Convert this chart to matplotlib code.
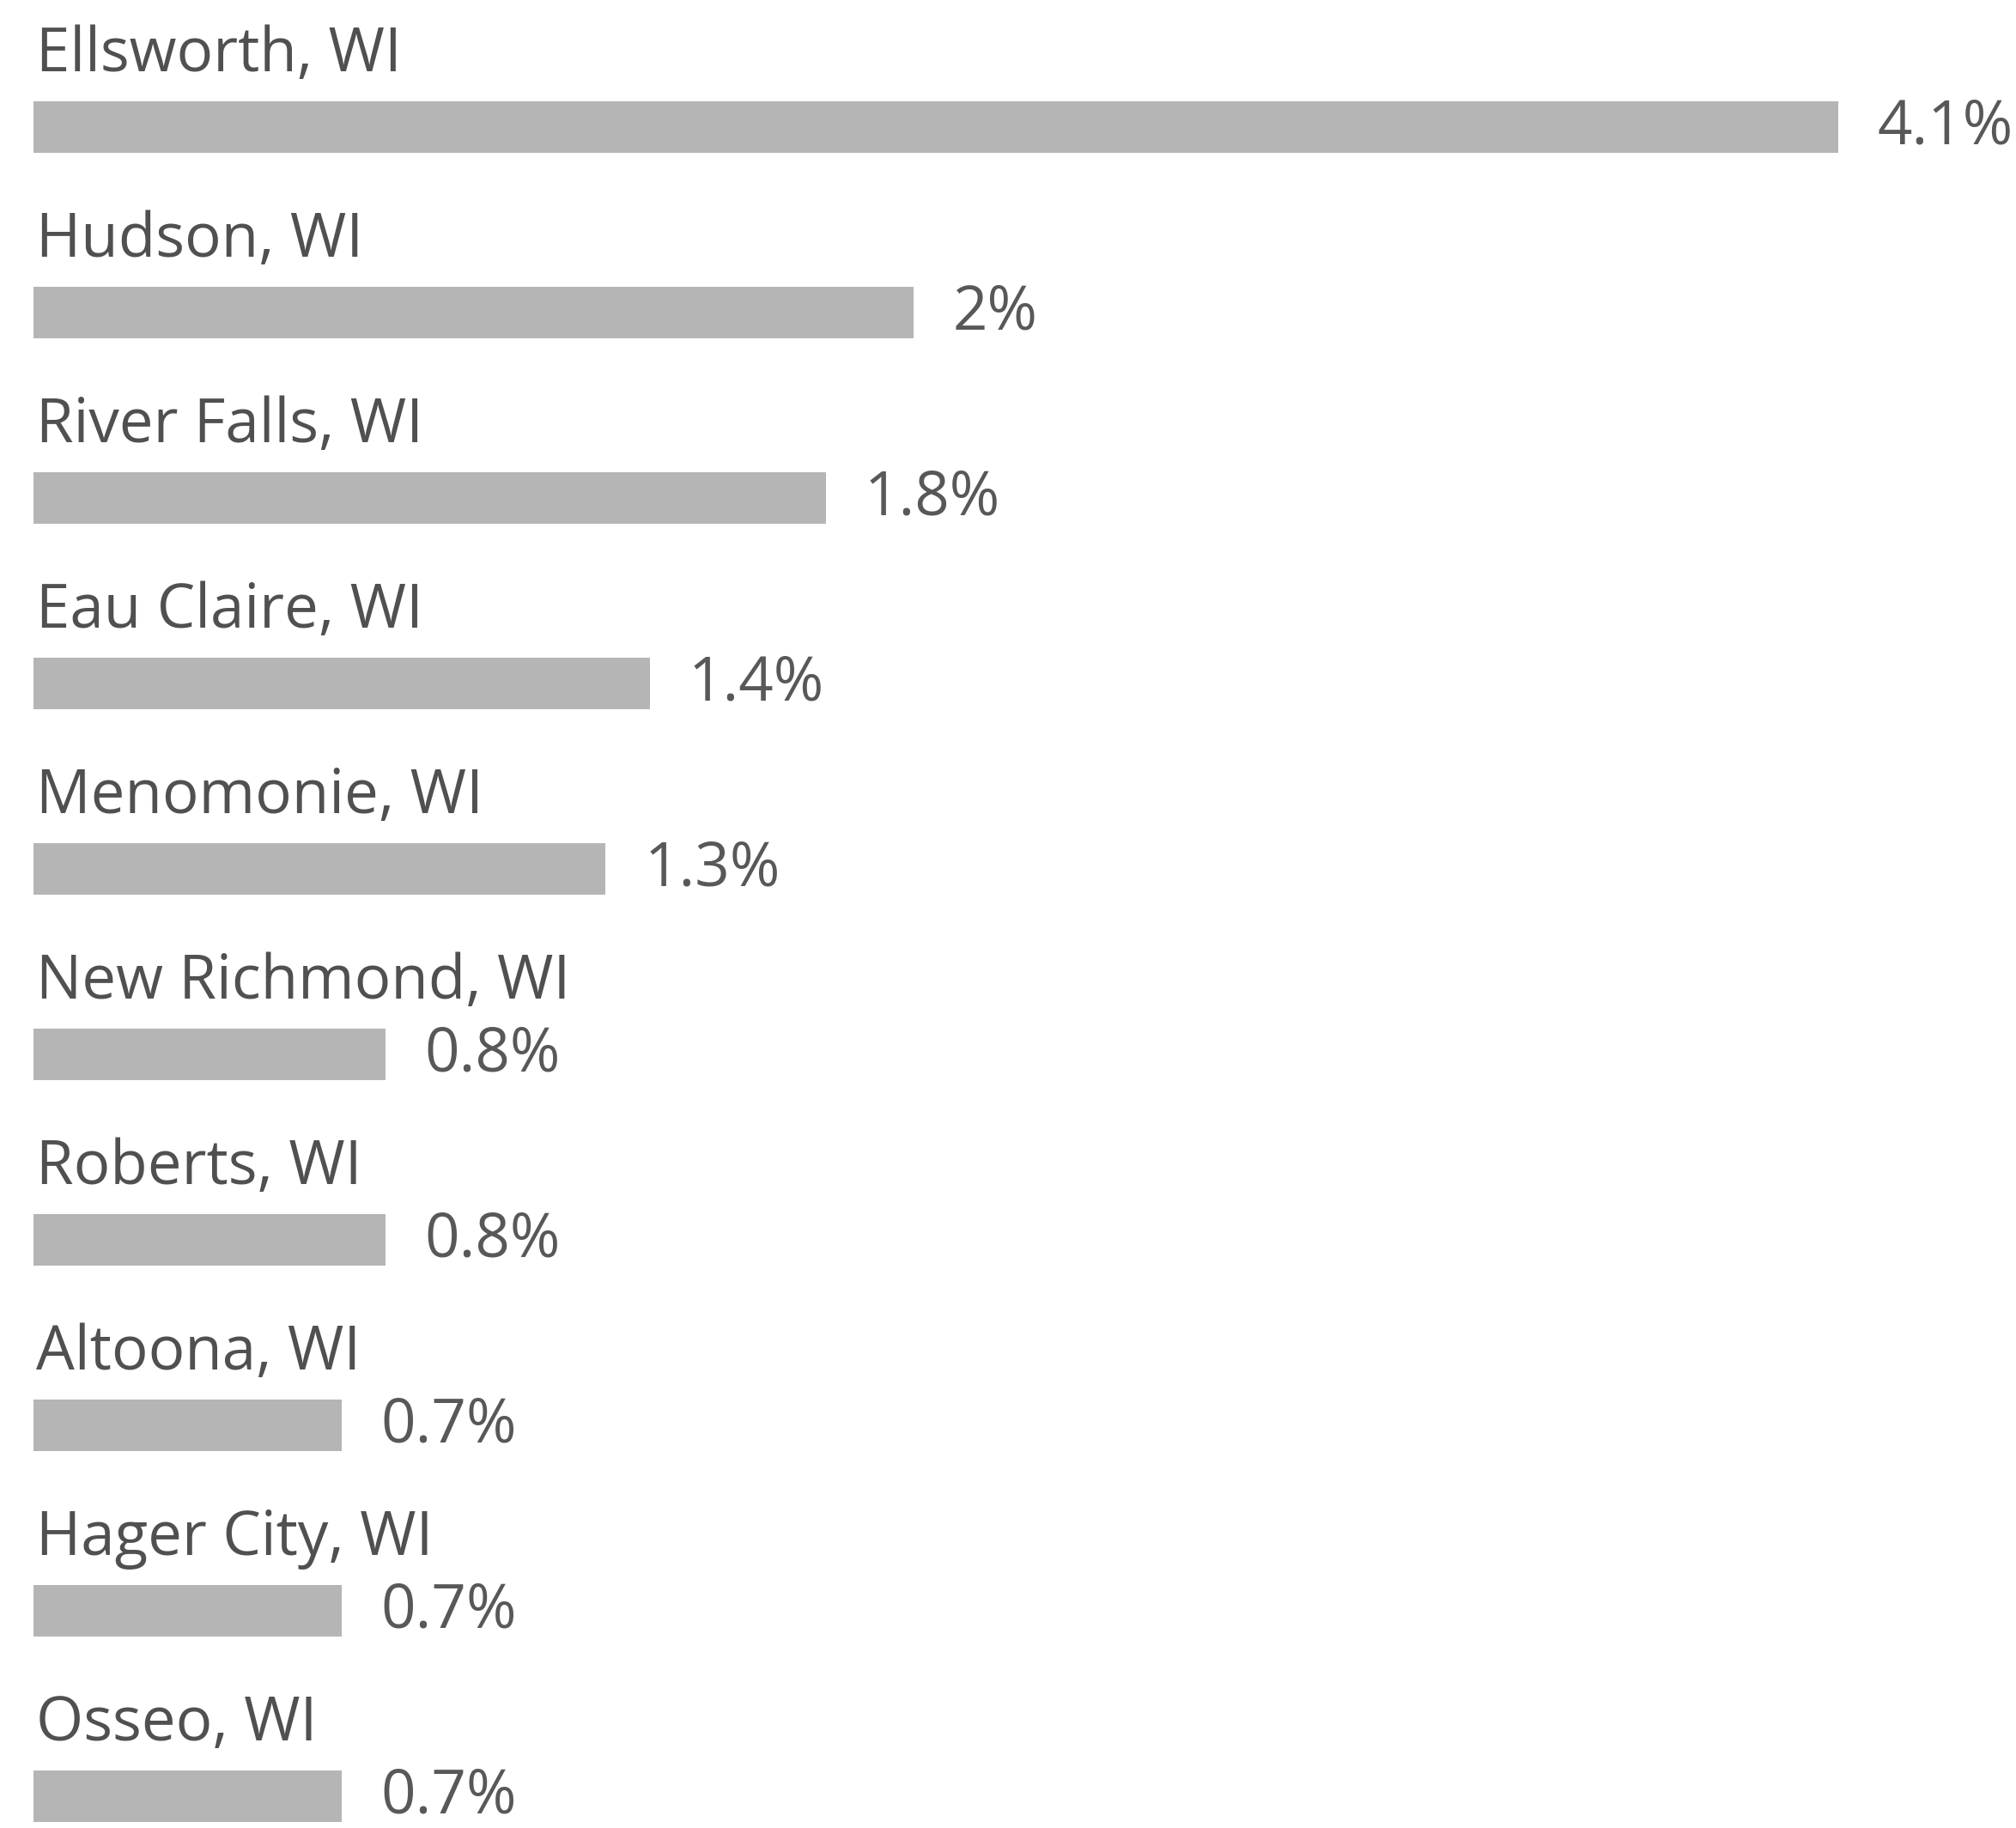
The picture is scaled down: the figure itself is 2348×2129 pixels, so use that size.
import matplotlib.pyplot as plt

# Städte und Anteile
cities = ["Ellsworth, WI", "Hudson, WI", "River Falls, WI", "Eau Claire, WI",
          "Menomonie, WI", "New Richmond, WI", "Roberts, WI", "Altoona, WI",
          "Hager City, WI", "Osseo, WI"]
values = [4.1, 2.0, 1.8, 1.4, 1.3, 0.8, 0.8, 0.7, 0.7, 0.7]
value_labels = ["4.1%", "2%", "1.8%", "1.4%", "1.3%", "0.8%", "0.8%", "0.7%", "0.7%", "0.7%"]

W, H = 2348, 2129
fig = plt.figure(figsize=(W / 100, H / 100), dpi=100)
ax = fig.add_axes([0, 0, 1, 1])

px_per_unit = (2141 - 39) / 4.1
row_px = 216.0
first_row = 148.0

ax.set_xlim(-39 / px_per_unit, (W - 39) / px_per_unit)
ax.set_ylim((H - first_row) / row_px, -first_row / row_px)
ax.axis("off")

rows = list(range(len(cities)))
ax.barh(rows, values, height=0.28, color="#b5b5b5", left=0)

for i, (name, v, lab) in enumerate(zip(cities, values, value_labels)):
    ax.text(0.005, i - 0.30, name, fontsize=51, family="Open Sans",
            color="#505050", va="baseline", ha="left")
    ax.text(v + 45 / px_per_unit, i + 0.005, lab, fontsize=51, family="Open Sans",
            color="#585858", va="center", ha="left")

fig.savefig("out.png", dpi=100, facecolor="white")
